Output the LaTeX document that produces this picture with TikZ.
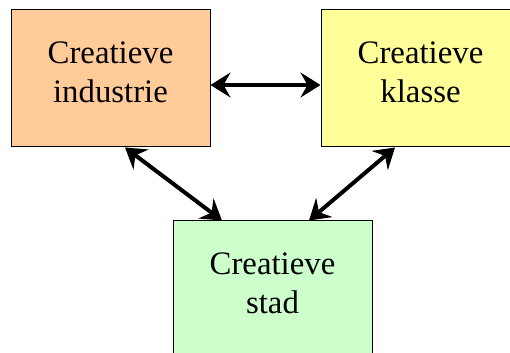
\documentclass[tikz,border=0pt]{standalone}
\usepackage{fontspec}
\setmainfont{Liberation Serif}
\usepackage{tikz}
\usetikzlibrary{shapes, arrows.meta}
\tikzstyle{blok} = [rectangle, draw, line width=0.5pt, text centered, align=center, minimum width=99.5pt, minimum height=68.5pt, text depth=6.5pt, font=\rmfamily\fontsize{16.4}{19.5}\selectfont]
\tikzstyle{connector} = [draw, line width=2pt, {Stealth[length=10pt, width=12.5pt, inset=3.5pt]}-{Stealth[length=10pt, width=12.5pt, inset=3.5pt]}]
\definecolor{oranje}{RGB}{255,204,153}
\definecolor{geel}{RGB}{255,255,153}
\definecolor{groen}{RGB}{204,255,204}

\begin{document}
\begin{tikzpicture}[node distance=155pt] %tekenomgeving met 155pt tussen de bovenste blokken

\useasboundingbox (0,0) rectangle (255pt,-176.5pt);

%---------------------------------------------
%De drie blokken van het diagram
%---------------------------------------------

\node [blok, fill=oranje] at (55.25pt,-39.25pt) (industrie) {Creatieve\\industrie};
%blok linksboven, oranje

\node [blok, fill=geel, right of=industrie] (klasse) {Creatieve\\klasse};
%blok rechtsboven, geel

\node [blok, fill=groen, below of=industrie, node distance=105.5pt, xshift=81pt] (stad) {Creatieve\\stad};
%blok onderaan, groen

%---------------------------------------------
%Pijlen in twee richtingen tussen de blokken
%---------------------------------------------
\path [connector] ([yshift=-3.25pt]industrie.east) -- ([yshift=-3.25pt]klasse.west);
\path [connector] ([xshift=7.25pt]industrie.south) -- ([xshift=-25.25pt]stad.north);
\path [connector] ([xshift=-12.75pt]klasse.south) -- ([xshift=18.25pt]stad.north);

\end{tikzpicture}
\end{document}
